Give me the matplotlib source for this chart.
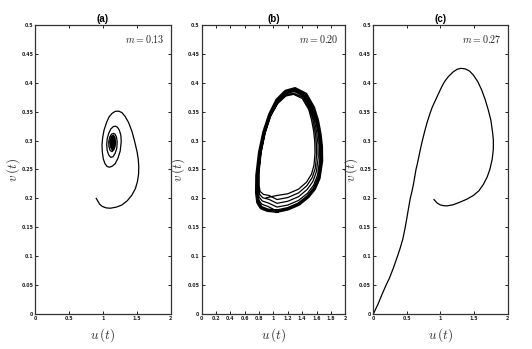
import matplotlib
matplotlib.use("Agg")
import matplotlib.pyplot as plt

plt.rcParams["mathtext.fontset"] = "cm"

# ---------------- data ----------------
m_labels = ["$m = 0.13$", "$m = 0.20$", "$m = 0.27$"]
panel_titles = ["(a)", "(b)", "(c)"]

y_ticks = [0, 0.05, 0.1, 0.15, 0.2, 0.25, 0.3, 0.35, 0.4, 0.45, 0.5]
y_ticklabels = ["0", "0.05", "0.1", "0.15", "0.2", "0.25", "0.3", "0.35", "0.4", "0.45", "0.5"]
x_ticks_ac = [0, 0.5, 1, 1.5, 2]
x_ticklabels_ac = ["0", "0.5", "1", "1.5", "2"]
x_ticks_b = [0, 0.2, 0.4, 0.6, 0.8, 1, 1.2, 1.4, 1.6, 1.8, 2]
x_ticklabels_b = ["0", "0.2", "0.4", "0.6", "0.8", "1", "1.2", "1.4", "1.6", "1.8", "2"]

# panel (a): trajectory spiralling into the equilibrium
a_u = [0.90, 0.95, 0.99, 1.05, 1.11, 1.20, 1.28, 1.36, 1.43, 1.48, 1.51, 1.527, 1.53, 1.522,
       1.504, 1.47, 1.43, 1.38, 1.33, 1.28, 1.232, 1.18, 1.133, 1.09, 1.055, 1.015, 0.995,
       0.985, 0.99, 1.005, 1.03, 1.062, 1.10, 1.14, 1.18, 1.22, 1.255, 1.27, 1.265, 1.242,
       1.215, 1.183, 1.15, 1.115, 1.083, 1.062, 1.055, 1.062, 1.085, 1.115, 1.148, 1.18,
       1.205, 1.21, 1.20, 1.18, 1.155, 1.125, 1.10, 1.085, 1.087, 1.105, 1.133, 1.16, 1.18,
       1.186, 1.178, 1.155, 1.125, 1.105, 1.112, 1.135, 1.16, 1.172, 1.165, 1.148, 1.127,
       1.117, 1.122, 1.138, 1.155, 1.163, 1.158, 1.146, 1.132, 1.126, 1.130, 1.140, 1.152,
       1.156, 1.152, 1.144, 1.136, 1.133, 1.137, 1.144, 1.149, 1.150, 1.146, 1.141, 1.139,
       1.142, 1.145]
a_v = [0.200, 0.190, 0.186, 0.1835, 0.183, 0.185, 0.1886, 0.196, 0.206, 0.217, 0.229, 0.242,
       0.255, 0.268, 0.281, 0.298, 0.3155, 0.331, 0.3414, 0.3485, 0.351, 0.3505, 0.347, 0.341,
       0.332, 0.318, 0.305, 0.292, 0.280, 0.268, 0.260, 0.255, 0.254, 0.256, 0.260, 0.269,
       0.282, 0.298, 0.309, 0.318, 0.323, 0.325, 0.324, 0.320, 0.312, 0.303, 0.293, 0.283,
       0.275, 0.271, 0.272, 0.278, 0.287, 0.298, 0.306, 0.311, 0.3125, 0.311, 0.306, 0.298,
       0.290, 0.283, 0.281, 0.284, 0.290, 0.297, 0.305, 0.3095, 0.307, 0.298, 0.289, 0.284,
       0.287, 0.296, 0.304, 0.307, 0.304, 0.298, 0.291, 0.287, 0.290, 0.297, 0.302, 0.305,
       0.302, 0.298, 0.293, 0.290, 0.292, 0.297, 0.300, 0.302, 0.300, 0.297, 0.294, 0.293,
       0.295, 0.298, 0.299, 0.299, 0.297, 0.296, 0.297]

# panel (b): trajectory winding out onto the limit cycle (loop by loop)
b_start_u = [0.90, 0.97]
b_start_v = [0.201, 0.203]
b_loop1_u = [1.05, 1.20, 1.35, 1.46, 1.53, 1.565, 1.578, 1.575, 1.56, 1.53, 1.49, 1.40,
             1.28, 1.17, 1.06, 0.96, 0.885, 0.83, 0.80, 0.80, 0.815, 0.86, 0.94]
b_loop1_v = [0.205, 0.208, 0.216, 0.228, 0.242, 0.258, 0.278, 0.298, 0.316, 0.336, 0.354,
             0.373, 0.380, 0.377, 0.364, 0.342, 0.313, 0.280, 0.245, 0.222, 0.212, 0.207, 0.205]
b_loop2_u = [1.05, 1.20, 1.35, 1.465, 1.54, 1.582, 1.60, 1.597, 1.581, 1.55, 1.506, 1.412,
             1.285, 1.17, 1.058, 0.958, 0.881, 0.825, 0.793, 0.792, 0.808, 0.852, 0.935]
b_loop2_v = [0.198, 0.2015, 0.2095, 0.222, 0.236, 0.252, 0.275, 0.296, 0.315, 0.336, 0.355,
             0.375, 0.382, 0.379, 0.3655, 0.343, 0.3135, 0.280, 0.244, 0.219, 0.207, 0.201, 0.1985]
b_loop3_u = [1.05, 1.20, 1.35, 1.47, 1.55, 1.598, 1.623, 1.62, 1.602, 1.57, 1.522, 1.425,
             1.29, 1.17, 1.055, 0.955, 0.878, 0.82, 0.786, 0.784, 0.80, 0.845, 0.93]
b_loop3_v = [0.1915, 0.195, 0.203, 0.2155, 0.2295, 0.2465, 0.2715, 0.294, 0.314, 0.3355,
             0.3555, 0.3765, 0.385, 0.381, 0.367, 0.3435, 0.314, 0.280, 0.2425, 0.216, 0.2025,
             0.1955, 0.192]
b_loop4_u = [1.05, 1.20, 1.35, 1.475, 1.56, 1.615, 1.645, 1.642, 1.624, 1.59, 1.539, 1.437,
             1.295, 1.17, 1.052, 0.952, 0.874, 0.815, 0.779, 0.776, 0.792, 0.838, 0.925]
b_loop4_v = [0.185, 0.1885, 0.1965, 0.209, 0.223, 0.241, 0.268, 0.292, 0.313, 0.335, 0.356,
             0.378, 0.387, 0.383, 0.3685, 0.344, 0.3145, 0.280, 0.241, 0.213, 0.198, 0.190, 0.186]
b_cycle_u = [1.05, 1.20, 1.35, 1.48, 1.57, 1.632, 1.668, 1.665, 1.645, 1.61, 1.555, 1.45,
             1.30, 1.17, 1.05, 0.95, 0.87, 0.81, 0.772, 0.768, 0.785, 0.83, 0.92, 1.05]
b_cycle_v = [0.178, 0.182, 0.190, 0.203, 0.217, 0.235, 0.265, 0.290, 0.312, 0.335, 0.357,
             0.380, 0.3895, 0.385, 0.370, 0.345, 0.315, 0.280, 0.240, 0.210, 0.193, 0.184,
             0.1795, 0.178]

# panel (c): trajectory going round once and collapsing to the origin
c_u = [0.903, 0.95, 0.993, 1.04, 1.092, 1.19, 1.29, 1.39, 1.488, 1.57, 1.637, 1.695, 1.737,
       1.77, 1.786, 1.787, 1.777, 1.75, 1.711, 1.665, 1.613, 1.555, 1.488, 1.43, 1.37, 1.305,
       1.25, 1.19, 1.116, 1.06, 1.018, 0.965, 0.918, 0.878, 0.844, 0.805, 0.769, 0.73, 0.695,
       0.66, 0.635, 0.60, 0.575, 0.55, 0.52, 0.495, 0.475, 0.44, 0.40, 0.36, 0.30, 0.24, 0.19,
       0.13, 0.07, 0.0]
c_v = [0.198, 0.192, 0.189, 0.1875, 0.187, 0.189, 0.1935, 0.1985, 0.205, 0.213, 0.224, 0.237,
       0.251, 0.268, 0.285, 0.300, 0.3126, 0.335, 0.353, 0.371, 0.3875, 0.402, 0.4135, 0.4205,
       0.424, 0.425, 0.4235, 0.419, 0.4106, 0.402, 0.393, 0.380, 0.368, 0.358, 0.347, 0.333,
       0.318, 0.300, 0.282, 0.262, 0.250, 0.226, 0.212, 0.200, 0.180, 0.163, 0.150, 0.130,
       0.114, 0.100, 0.080, 0.062, 0.050, 0.034, 0.017, 0.0]

# ---------------- figure ----------------
fig = plt.figure(figsize=(5.32, 3.49), dpi=100)
rects = [[0.0667, 0.1003, 0.2538, 0.8281],
         [0.3788, 0.1003, 0.2703, 0.8281],
         [0.7017, 0.1003, 0.2526, 0.8281]]
axes = [fig.add_axes(r) for r in rects]

lc = "black"
axes[0].plot(a_u, a_v, color=lc, lw=0.9)

b_u = (b_start_u + b_loop1_u + b_loop2_u + b_loop3_u + b_loop4_u + b_cycle_u)
b_v = (b_start_v + b_loop1_v + b_loop2_v + b_loop3_v + b_loop4_v + b_cycle_v)
axes[1].plot(b_u, b_v, color=lc, lw=0.9)
axes[1].plot(b_cycle_u, b_cycle_v, color=lc, lw=2.6)

axes[2].plot(c_u, c_v, color=lc, lw=0.9)

for i, ax in enumerate(axes):
    ax.set_xlim(0, 2)
    ax.set_ylim(0, 0.5)
    ax.set_yticks(y_ticks)
    ax.set_yticklabels(y_ticklabels)
    if i == 1:
        ax.set_xticks(x_ticks_b)
        ax.set_xticklabels(x_ticklabels_b)
    else:
        ax.set_xticks(x_ticks_ac)
        ax.set_xticklabels(x_ticklabels_ac)
    ax.tick_params(direction="in", length=2.2, width=0.7, top=True, right=True,
                   labelsize=3.4, pad=1.5, colors="#222222")
    for lab in ax.get_xticklabels() + ax.get_yticklabels():
        lab.set_fontweight("bold")
    for sp in ax.spines.values():
        sp.set_linewidth(0.9)
        sp.set_color("#333333")
    ax.set_title(panel_titles[i], fontsize=7, fontweight="bold",
                 family="Liberation Sans", pad=2.5)
    ax.text(0.955, 0.95, m_labels[i], transform=ax.transAxes, ha="right", va="center",
            fontsize=7.2, color="#222222", math_fontfamily="cm")
    ax.set_xlabel(r"$u\,(t)$", fontsize=9.5, color="#333333", math_fontfamily="cm")
    ax.set_ylabel(r"$v\,(t)$", fontsize=9.5, color="#333333", math_fontfamily="cm")
    ax.xaxis.set_label_coords(0.5, -0.042)
    ax.yaxis.set_label_coords(-0.1, 0.5)

fig.savefig("out.png", dpi=100)
